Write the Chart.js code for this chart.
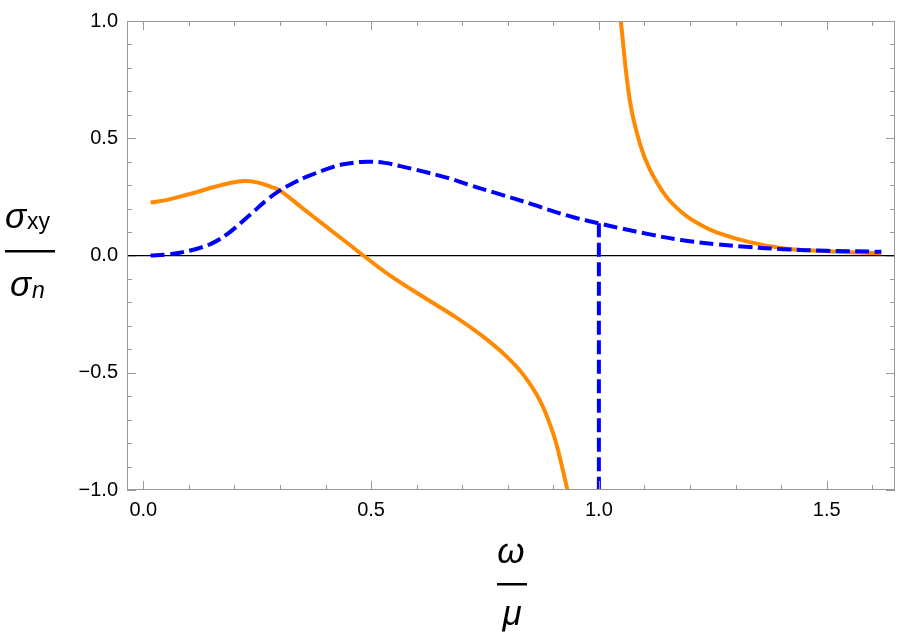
<!DOCTYPE html>
<html>
<head>
<meta charset="utf-8">
<script src="https://cdn.jsdelivr.net/npm/chart.js@4"></script>
<style>
  body { margin: 0; background: #fff; }
  #wrap { width: 899px; height: 640px; position: relative; }
</style>
</head>
<body>
<div id="wrap"><canvas id="c"></canvas></div>
<script>
// values
const orangeLeftX = [0.016, 0.05, 0.08, 0.12, 0.155, 0.19, 0.22, 0.25, 0.28, 0.30, 0.35, 0.40, 0.45, 0.483, 0.542, 0.615, 0.688, 0.746, 0.797, 0.834, 0.871, 0.900, 0.914, 0.931];
const orangeLeftY = [0.226, 0.236, 0.251, 0.272, 0.292, 0.309, 0.318, 0.312, 0.293, 0.277, 0.201, 0.125, 0.05, 0.0, -0.086, -0.177, -0.266, -0.346, -0.430, -0.508, -0.620, -0.761, -0.859, -1.0];
const orangeRightX = [1.048, 1.068, 1.09, 1.112, 1.148, 1.185, 1.22, 1.258, 1.331, 1.404, 1.477, 1.55, 1.62];
const orangeRightY = [1.0, 0.66, 0.477, 0.366, 0.251, 0.179, 0.134, 0.099, 0.057, 0.031, 0.02, 0.014, 0.01];
const blueX = [0.016, 0.05, 0.08, 0.12, 0.154, 0.19, 0.235, 0.27, 0.30, 0.33, 0.359, 0.417, 0.45, 0.49, 0.53, 0.564, 0.60, 0.67, 0.71, 0.78, 0.856, 0.904, 0.95, 1.0, 1.05, 1.112, 1.18, 1.258, 1.33, 1.404, 1.5, 1.62];
const blueY = [0.0, 0.004, 0.012, 0.03, 0.055, 0.1, 0.175, 0.235, 0.278, 0.31, 0.336, 0.378, 0.392, 0.40, 0.395, 0.381, 0.365, 0.330, 0.304, 0.263, 0.217, 0.186, 0.16, 0.137, 0.115, 0.09, 0.066, 0.048, 0.036, 0.027, 0.02, 0.016];
const blueDropX = [1.0, 1.0];
const blueDropY = [0.137, -1.0];

const xTicks = [0, 0.5, 1.0, 1.5];
const xTickLabels = ['0.0', '0.5', '1.0', '1.5'];
const yTicks = [-1, -0.5, 0, 0.5, 1];
const yTickLabels = ['\u22121.0', '\u22120.5', '0.0', '0.5', '1.0'];

const ORANGE = '#ff8a00';
const BLUE = '#0000ff';
const FRAME = '#999999';

const zip = (xs, ys) => xs.map((x, i) => ({ x: x, y: ys[i] }));

// mathematica style frame: inward ticks on all four sides + axis labels
const framePlugin = {
  id: 'frame',
  afterDraw(chart) {
    const { ctx, chartArea: a, scales: { x, y } } = chart;
    ctx.save();
    ctx.strokeStyle = FRAME;
    ctx.lineWidth = 1;
    ctx.strokeRect(a.left + 0.5, a.top + 0.5, a.right - a.left - 1, a.bottom - a.top - 1);

    ctx.beginPath();
    for (let i = 0; i <= 16; i++) {
      const v = i / 10;
      const len = (i % 5 === 0) ? 9 : 5;
      const px = Math.round(x.getPixelForValue(v)) + 0.5;
      ctx.moveTo(px, a.bottom); ctx.lineTo(px, a.bottom - len);
      ctx.moveTo(px, a.top); ctx.lineTo(px, a.top + len);
    }
    for (let i = -10; i <= 10; i++) {
      const v = i / 10;
      const len = (i % 5 === 0) ? 9 : 5;
      const py = Math.round(y.getPixelForValue(v)) + 0.5;
      ctx.moveTo(a.left, py); ctx.lineTo(a.left + len, py);
      ctx.moveTo(a.right, py); ctx.lineTo(a.right - len, py);
    }
    ctx.stroke();

    // y label  sigma_xy / sigma_n
    ctx.fillStyle = '#000';
    ctx.textBaseline = 'alphabetic';
    ctx.textAlign = 'left';
    ctx.font = 'italic 35px "Liberation Sans"';
    ctx.fillText('\u03c3', 5, 228);
    ctx.font = '23px "Liberation Sans"';
    ctx.fillText('xy', 27, 229);
    ctx.fillRect(5, 250, 50, 2.5);
    ctx.font = 'italic 35px "Liberation Sans"';
    ctx.fillText('\u03c3', 10, 296);
    ctx.font = 'italic 23px "Liberation Sans"';
    ctx.fillText('n', 32, 298);

    // x label  omega / mu
    const cx = (a.left + a.right) / 2;
    ctx.textAlign = 'center';
    ctx.font = 'italic 35px "Liberation Sans"';
    ctx.fillText('\u03c9', cx, 563);
    ctx.fillRect(cx - 14, 583, 30, 2.5);
    ctx.fillText('\u03bc', cx + 1, 625);
    ctx.restore();
  }
};

const fmtTick = (vals, labels) => (v) => {
  const i = vals.findIndex(t => Math.abs(t - v) < 1e-9);
  return i >= 0 ? labels[i] : '';
};

const lineStyle = { showLine: true, pointRadius: 0, clip: 0, tension: 0.4 };

new Chart(document.getElementById('c'), {
  type: 'scatter',
  data: {
    datasets: [
      Object.assign({ data: zip(blueX, blueY), borderColor: BLUE, borderWidth: 4, borderDash: [14, 5.5] }, lineStyle),
      Object.assign({ data: zip(blueDropX, blueDropY), borderColor: BLUE, borderWidth: 4, borderDash: [14, 5.5] }, lineStyle, { tension: 0 }),
      Object.assign({ data: zip(orangeLeftX, orangeLeftY), borderColor: ORANGE, borderWidth: 4 }, lineStyle),
      Object.assign({ data: zip(orangeRightX, orangeRightY), borderColor: ORANGE, borderWidth: 4 }, lineStyle)
    ]
  },
  options: {
    responsive: true,
    maintainAspectRatio: false,
    animation: false,
    layout: { padding: { top: 15, right: 4, left: 0, bottom: 0 } },
    plugins: { legend: { display: false }, tooltip: { enabled: false } },
    scales: {
      x: {
        type: 'linear',
        min: -0.0358,
        max: 1.65,
        afterBuildTicks: s => { s.ticks = xTicks.map(v => ({ value: v })); },
        afterFit: s => { s.height = 150; },
        grid: { display: false, drawTicks: false },
        border: { display: false },
        ticks: {
          color: '#000', padding: 8, maxRotation: 0, autoSkip: false,
          font: { family: 'Liberation Sans', size: 20 },
          callback: fmtTick(xTicks, xTickLabels)
        }
      },
      y: {
        type: 'linear',
        min: -1,
        max: 1,
        afterBuildTicks: s => { s.ticks = yTicks.map(v => ({ value: v })); },
        afterFit: s => { s.width = 127; },
        grid: {
          drawTicks: false,
          lineWidth: 1.2,
          color: c => (c.tick && c.tick.value === 0) ? '#000' : 'rgba(0,0,0,0)'
        },
        border: { display: false },
        ticks: {
          color: '#000', padding: 9, autoSkip: false,
          font: { family: 'Liberation Sans', size: 20 },
          callback: fmtTick(yTicks, yTickLabels)
        }
      }
    }
  },
  plugins: [framePlugin]
});
</script>
</body>
</html>
